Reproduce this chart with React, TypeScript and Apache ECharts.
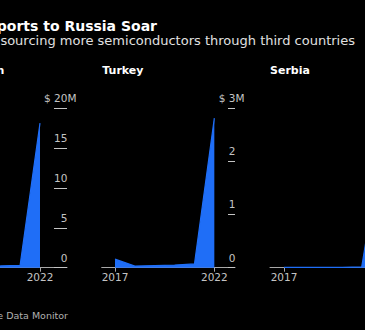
import React, { useEffect, useRef } from "react";
import * as echarts from "echarts";

const years = [2017, 2018, 2019, 2020, 2021, 2022];
const panelNames = ["Kazakhstan", "Turkey", "Serbia"];
const kazakhstanValues = [0.2, 0.2, 0.2, 0.22, 0.3, 18.1];
const turkeyValues = [0.16, 0.03, 0.04, 0.05, 0.07, 2.81];
const serbiaValues = [0.01, 0.01, 0.01, 0.01, 0.02, 3.0];
const yMax = [20, 3, 4];
const yInterval = [5, 1, 1];
const xLabelYears = [2017, 2022];

const TITLE = "Chip Exports to Russia Soar";
const SUBTITLE = "Russia is sourcing more semiconductors through third countries";
const SOURCE = "Source: Trade Data Monitor";

const OFF = 100; // chart canvas is shifted left by this many px
const FONT = "DejaVu Sans";
const BLUE = "#1f6ef7";
const AXIS = "#a8a8a8";
const LABEL = "#c4c4c4";

export default function App() {
  const ref = useRef<HTMLDivElement>(null);
  useEffect(() => {
    if (!ref.current) return;
    const chart = echarts.init(ref.current, null, { renderer: "svg" });
    const seriesValues = [kazakhstanValues, turkeyValues, serbiaValues];
    const grids = [
      { left: 27.2, width: 139.8, xmin: 2016.33, xmax: 2023.357, tick: 13 },
      { left: 201.7, width: 133.3, xmin: 2016.33, xmax: 2023.04, tick: 7 },
      { left: 370, width: 133.3, xmin: 2016.28, xmax: 2023.14, tick: 7 },
    ];
    const rich = {
      c: { color: LABEL, fontSize: 10.5, fontFamily: FONT, lineHeight: 12 },
      h: { color: "rgba(0,0,0,0)", fontSize: 10.5, fontFamily: FONT, lineHeight: 12 },
    };
    const option: any = {
      animation: false,
      backgroundColor: "#000",
      grid: grids.map((g) => ({ left: g.left, width: g.width, top: 108, bottom: 62.3 })),
      xAxis: grids.map((g, i) => ({
        type: "value",
        gridIndex: i,
        min: g.xmin,
        max: g.xmax,
        splitLine: { show: false },
        axisLine: { show: true, onZero: false, lineStyle: { color: AXIS, width: 1 } },
        axisTick: { show: true, length: 4, customValues: xLabelYears, lineStyle: { color: AXIS } },
        axisLabel: {
          customValues: xLabelYears,
          color: LABEL,
          fontSize: 10.5,
          fontFamily: FONT,
          margin: 4,
          formatter: (v: number) => String(Math.round(v)),
        },
      })),
      yAxis: grids.map((g, i) => ({
        type: "value",
        gridIndex: i,
        position: "right",
        min: 0,
        max: yMax[i],
        interval: yInterval[i],
        splitLine: { show: false },
        axisLine: { show: false },
        axisTick: { show: true, inside: true, length: g.tick, lineStyle: { color: LABEL } },
        axisLabel: {
          inside: true,
          margin: -9.5,
          color: LABEL,
          fontSize: 10.5,
          fontFamily: FONT,
          verticalAlign: "bottom",
          lineHeight: 12,
          padding: [0, 0, 4, 0],
          formatter: (v: number) => (v === yMax[i] ? `{c|$ }${v}{c|M}` : `${v}{h|M}`),
          rich,
        },
      })),
      series: seriesValues.map((vals, i) => ({
        type: "line",
        xAxisIndex: i,
        yAxisIndex: i,
        data: years.map((y, k) => [y, vals[k]]),
        showSymbol: false,
        symbol: "none",
        lineStyle: { color: BLUE, width: 1.2 },
        areaStyle: { color: BLUE, opacity: 1 },
        z: 1,
      })),
      graphic: [
        {
          type: "text",
          x: 157 + OFF,
          y: 25.6,
          style: { text: TITLE, fill: "#fff", font: `bold 14px '${FONT}'`, textAlign: "right", textVerticalAlign: "middle" },
        },
        {
          type: "text",
          x: 355 + OFF,
          y: 40,
          style: { text: SUBTITLE, fill: "#e0e0e0", font: `13px '${FONT}'`, textAlign: "right", textVerticalAlign: "middle" },
        },
        {
          type: "text",
          x: 4.3 + OFF,
          y: 70,
          style: { text: panelNames[0], fill: "#fff", font: `bold 11px '${FONT}'`, textAlign: "right", textVerticalAlign: "middle" },
        },
        {
          type: "text",
          x: 102.3 + OFF,
          y: 70,
          style: { text: panelNames[1], fill: "#fff", font: `bold 11px '${FONT}'`, textAlign: "left", textVerticalAlign: "middle" },
        },
        {
          type: "text",
          x: 270 + OFF,
          y: 70,
          style: { text: panelNames[2], fill: "#fff", font: `bold 11px '${FONT}'`, textAlign: "left", textVerticalAlign: "middle" },
        },
        {
          type: "text",
          x: 68 + OFF,
          y: 315,
          style: { text: SOURCE, fill: "#b0b0b0", font: `9.5px '${FONT}'`, textAlign: "right", textVerticalAlign: "middle" },
        },
      ],
    };
    chart.setOption(option);
    return () => chart.dispose();
  }, []);
  return (
    <div
      ref={ref}
      style={{ position: "fixed", left: -OFF, top: 0, width: 565, height: 330, background: "#000" }}
    />
  );
}
